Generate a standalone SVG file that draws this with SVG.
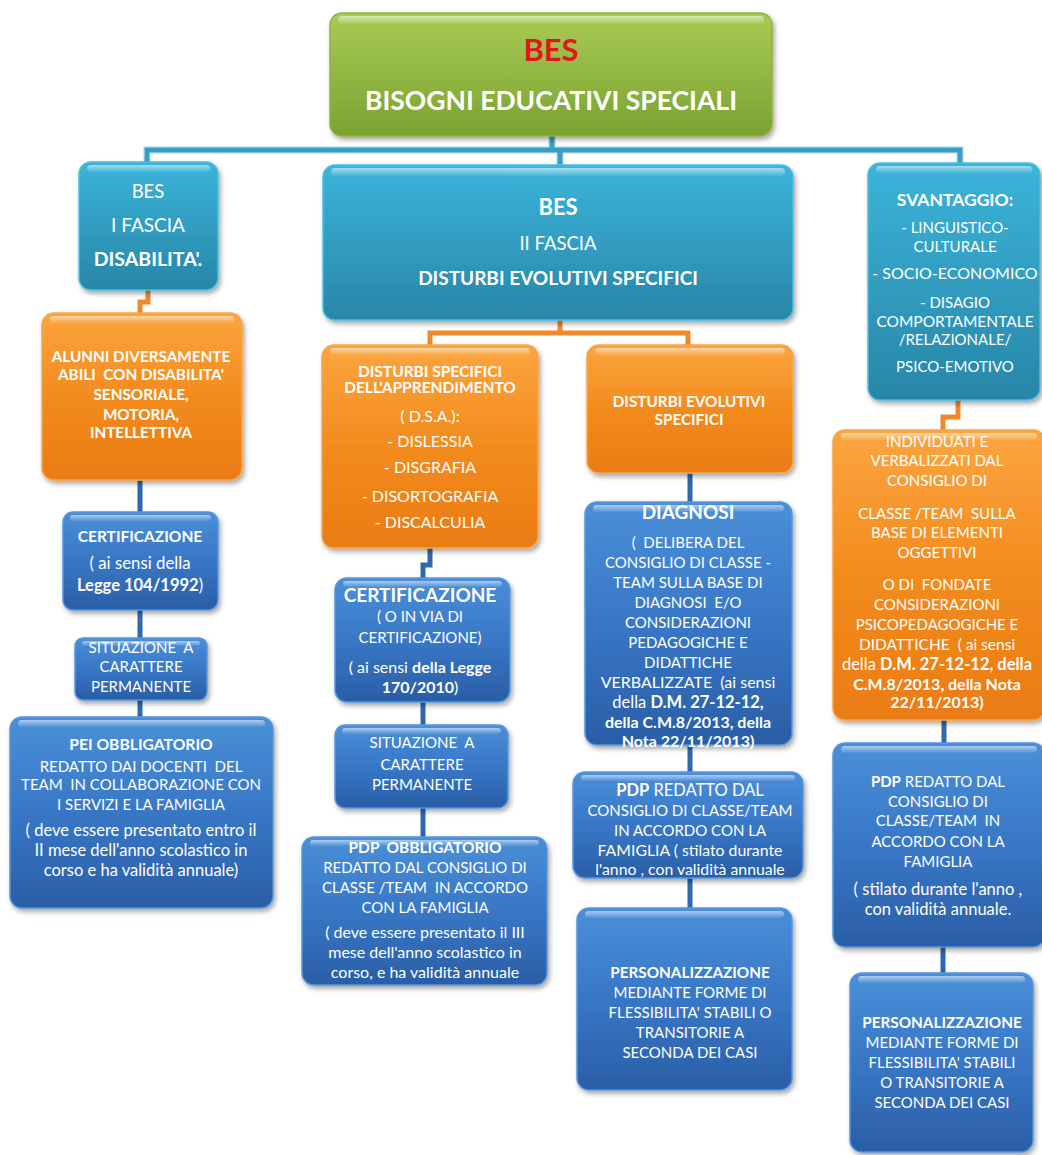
<svg xmlns="http://www.w3.org/2000/svg" width="1042" height="1155" viewBox="0 0 1042 1155">
<defs>
<linearGradient id="gG" x1="0" y1="0" x2="0" y2="1"><stop offset="0" stop-color="#a9cb55"/><stop offset="1" stop-color="#7aa232"/></linearGradient>
<linearGradient id="gC" x1="0" y1="0" x2="0" y2="1"><stop offset="0" stop-color="#3bb4da"/><stop offset="1" stop-color="#2886a8"/></linearGradient>
<linearGradient id="gO" x1="0" y1="0" x2="0" y2="1"><stop offset="0" stop-color="#fba53f"/><stop offset="0.5" stop-color="#f38b1e"/><stop offset="1" stop-color="#ea7c12"/></linearGradient>
<linearGradient id="gB" x1="0" y1="0" x2="0" y2="1"><stop offset="0" stop-color="#4a8fd8"/><stop offset="0.5" stop-color="#3877c6"/><stop offset="1" stop-color="#2a5ea6"/></linearGradient>
<linearGradient id="gH" x1="0" y1="0" x2="0" y2="1"><stop offset="0" stop-color="#fff" stop-opacity="0.55"/><stop offset="1" stop-color="#fff" stop-opacity="0.05"/></linearGradient>
<filter id="sh" x="-10%" y="-10%" width="130%" height="130%"><feDropShadow dx="2" dy="3" stdDeviation="2.5" flood-color="#000" flood-opacity="0.35"/></filter>
<style>
.bx{filter:url(#sh);stroke-width:1.5}
.g{fill:url(#gG);stroke:#8db43f}
.c{fill:url(#gC);stroke:#4bbde0}
.o{fill:url(#gO);stroke:#f8a548}
.u{fill:url(#gB);stroke:#5596dc}
.hl{fill:url(#gH)}
text{font-family:Lato,"Liberation Sans",sans-serif;fill:#fff;text-anchor:middle;font-size:15px}
.b{font-weight:bold}
.s{font-size:16.5px}
.m{font-size:16px}
.lc{fill:none;stroke-width:5;stroke-linejoin:miter}
.lt{stroke:#3a9dc3}
.lo{stroke:#f0892a}
.lb{stroke:#2f68ad}
.lw{fill:none;stroke:#cfe9f3;stroke-width:8}
</style>
</defs>

<g id="connectors">
<path class="lw" d="M552,136 V150 M147,163 V150 H960 V164 M560,150 V166"/>
<path class="lc lt" d="M552,136 V150 M147,163 V150 H960 V164 M560,150 V166"/>
<path class="lc lo" d="M148,290 V302 H140 V314"/>
<path class="lc lo" d="M560,320 V333 M430,346 V333 H688 V346"/>
<path class="lc lo" d="M958,400 V417 H943 V431"/>
<path class="lc lb" d="M140,480 V513 M140,610 V639 M140,700 V718"/>
<path class="lc lb" d="M430,548 V565 H423 V579 M423,702 V726 M423,808 V838"/>
<path class="lc lb" d="M690,473 V503 M690,745 V773 M690,878 V909"/>
<path class="lc lb" d="M944,720 V744 M943,947 V974"/>
</g>

<g id="root">
<rect class="bx g" x="330" y="13" width="442" height="123" rx="12"/>
<rect class="hl" x="338" y="16" width="426" height="8" rx="4"/>
<text x="551" y="61" class="b" style="fill:#e3161c;font-size:31px">BES</text>
<text x="551" y="110" class="b" style="font-size:26.5px">BISOGNI EDUCATIVI SPECIALI</text>
</g>

<g id="bes1">
<rect class="bx c" x="79" y="162" width="139" height="128" rx="12"/>
<rect class="hl" x="87" y="165" width="123" height="7" rx="3.5"/>
<text x="148" y="198" style="font-size:18.5px">BES</text>
<text x="148" y="232" style="font-size:19px">I FASCIA</text>
<text x="148" y="266" class="b" style="font-size:19.5px">DISABILITA'.</text>
</g>

<g id="bes2">
<rect class="bx c" x="323" y="165" width="470" height="155" rx="12"/>
<rect class="hl" x="331" y="168" width="454" height="8" rx="4"/>
<text x="558" y="215" class="b" style="font-size:22px">BES</text>
<text x="558" y="250" style="font-size:18.5px">II FASCIA</text>
<text x="558" y="285" class="b" style="font-size:19px">DISTURBI EVOLUTIVI SPECIFICI</text>
</g>

<g id="svantaggio">
<rect class="bx c" x="868" y="163" width="172" height="237" rx="12"/>
<rect class="hl" x="876" y="166" width="156" height="7" rx="3.5"/>
<text x="955" y="206" class="b" style="font-size:17.5px">SVANTAGGIO:</text>
<text x="955" y="233">- LINGUISTICO-</text>
<text x="955" y="252">CULTURALE</text>
<text x="955" y="279" style="font-size:16px">- SOCIO-ECONOMICO</text>
<text x="955" y="308">- DISAGIO</text>
<text x="955" y="327" style="font-size:15.5px">COMPORTAMENTALE</text>
<text x="955" y="345">/RELAZIONALE/</text>
<text x="955" y="372">PSICO-EMOTIVO</text>
</g>

<g id="alunni">
<rect class="bx o" x="42" y="313" width="200" height="167" rx="12"/>
<rect class="hl" x="50" y="316" width="184" height="7" rx="3.5"/>
<text x="141" y="362" class="b" style="font-size:15.3px">ALUNNI DIVERSAMENTE</text>
<text x="141" y="380" class="b" style="font-size:15.3px">ABILI&#160; CON DISABILITA'</text>
<text x="141" y="400" class="b" style="font-size:15.3px">SENSORIALE,</text>
<text x="141" y="420" class="b" style="font-size:15.3px">MOTORIA,</text>
<text x="141" y="438" class="b" style="font-size:15.3px">INTELLETTIVA</text>
</g>

<g id="dsa">
<rect class="bx o" x="322" y="345" width="216" height="203" rx="12"/>
<rect class="hl" x="330" y="348" width="200" height="7" rx="3.5"/>
<text x="430" y="377" class="b" style="font-size:15.5px">DISTURBI SPECIFICI</text>
<text x="430" y="393" class="b" style="font-size:15.5px">DELL'APPRENDIMENTO</text>
<text x="430" y="422" class="m">( D.S.A.):</text>
<text x="430" y="447" class="m">- DISLESSIA</text>
<text x="430" y="473" class="m">- DISGRAFIA</text>
<text x="430" y="502" class="m">- DISORTOGRAFIA</text>
<text x="430" y="528" class="m">- DISCALCULIA</text>
</g>

<g id="des">
<rect class="bx o" x="587" y="345" width="206" height="128" rx="12"/>
<rect class="hl" x="595" y="348" width="190" height="7" rx="3.5"/>
<text x="689" y="407" class="b" style="font-size:15.3px">DISTURBI EVOLUTIVI</text>
<text x="689" y="425" class="b" style="font-size:15.3px">SPECIFICI</text>
</g>

<g id="individuati">
<rect class="bx o" x="833" y="430" width="212" height="290" rx="12"/>
<rect class="hl" x="841" y="433" width="196" height="7" rx="3.5"/>
<text x="937" y="447">INDIVIDUATI E</text>
<text x="937" y="466">VERBALIZZATI DAL</text>
<text x="937" y="486">CONSIGLIO DI</text>
<text x="937" y="519">CLASSE /TEAM&#160; SULLA</text>
<text x="937" y="538">BASE DI ELEMENTI</text>
<text x="937" y="558">OGGETTIVI</text>
<text x="937" y="590">O DI&#160; FONDATE</text>
<text x="937" y="610">CONSIDERAZIONI</text>
<text x="937" y="630">PSICOPEDAGOGICHE E</text>
<text x="937" y="650" style="font-size:15.5px">DIDATTICHE&#160; ( ai sensi</text>
<text x="937" y="670" style="font-size:16.5px">della <tspan class="b">D.M. 27-12-12, della</tspan></text>
<text x="937" y="690" class="b m">C.M.8/2013, della Nota</text>
<text x="937" y="708" class="b m">22/11/2013)</text>
</g>

<g id="cert1">
<rect class="bx u" x="63" y="512" width="155" height="98" rx="10"/>
<rect class="hl" x="70" y="515" width="141" height="6" rx="3"/>
<text x="140" y="542" class="b" style="font-size:15.5px">CERTIFICAZIONE</text>
<text x="140" y="569" style="font-size:16.8px">( ai sensi della</text>
<text x="140" y="591" style="font-size:16.5px"><tspan class="b">Legge 104/1992</tspan>)</text>
</g>

<g id="sit1">
<rect class="bx u" x="75" y="638" width="132" height="62" rx="8"/>
<rect class="hl" x="82" y="641" width="118" height="5" rx="2.5"/>
<text x="141" y="653">SITUAZIONE&#160; A</text>
<text x="141" y="672">CARATTERE</text>
<text x="141" y="692">PERMANENTE</text>
</g>

<g id="pei">
<rect class="bx u" x="10" y="717" width="263" height="191" rx="12"/>
<rect class="hl" x="18" y="720" width="247" height="7" rx="3.5"/>
<text x="141" y="750" class="b" style="font-size:15.7px">PEI OBBLIGATORIO</text>
<text x="141" y="772">REDATTO DAI DOCENTI&#160; DEL</text>
<text x="141" y="790">TEAM&#160; IN COLLABORAZIONE CON</text>
<text x="141" y="810">I SERVIZI E LA FAMIGLIA</text>
<text x="141" y="836" class="s">( deve essere presentato entro il</text>
<text x="141" y="856" class="s">II mese dell'anno scolastico in</text>
<text x="141" y="876" class="s">corso e ha validità annuale)</text>
</g>

<g id="cert2">
<rect class="bx u" x="335" y="578" width="175" height="124" rx="12"/>
<rect class="hl" x="343" y="581" width="159" height="6" rx="3"/>
<text x="420" y="602" class="b" style="font-size:19px">CERTIFICAZIONE</text>
<text x="420" y="622">( O IN VIA DI</text>
<text x="420" y="643">CERTIFICAZIONE)</text>
<text x="420" y="673" class="m">( ai sensi <tspan class="b">della Legge</tspan></text>
<text x="420" y="693" class="m"><tspan class="b">170/2010</tspan>)</text>
</g>

<g id="sit2">
<rect class="bx u" x="335" y="725" width="173" height="83" rx="10"/>
<rect class="hl" x="342" y="728" width="159" height="6" rx="3"/>
<text x="422" y="748">SITUAZIONE&#160; A</text>
<text x="422" y="770">CARATTERE</text>
<text x="422" y="790">PERMANENTE</text>
</g>

<g id="pdp2">
<rect class="bx u" x="302" y="837" width="245" height="148" rx="12"/>
<rect class="hl" x="310" y="840" width="229" height="6" rx="3"/>
<text x="425" y="853" class="b" style="font-size:15.5px">PDP&#160; OBBLIGATORIO</text>
<text x="425" y="873">REDATTO DAL CONSIGLIO DI</text>
<text x="425" y="893">CLASSE /TEAM&#160; IN ACCORDO</text>
<text x="425" y="913">CON LA FAMIGLIA</text>
<text x="425" y="938" class="m">( deve essere presentato il III</text>
<text x="425" y="958" class="m">mese dell'anno scolastico in</text>
<text x="425" y="978" class="m">corso, e ha validità annuale</text>
</g>

<g id="diagnosi">
<rect class="bx u" x="585" y="502" width="207" height="243" rx="12"/>
<rect class="hl" x="593" y="505" width="191" height="7" rx="3.5"/>
<text x="688" y="519" class="b" style="font-size:19px">DIAGNOSI</text>
<text x="688" y="548">(&#160; DELIBERA DEL</text>
<text x="688" y="568">CONSIGLIO DI CLASSE -</text>
<text x="688" y="588">TEAM SULLA BASE DI</text>
<text x="688" y="608">DIAGNOSI&#160; E/O</text>
<text x="688" y="628">CONSIDERAZIONI</text>
<text x="688" y="648">PEDAGOGICHE E</text>
<text x="688" y="668">DIDATTICHE</text>
<text x="688" y="688" class="m">VERBALIZZATE&#160; (ai sensi</text>
<text x="688" y="708" class="s">della <tspan class="b">D.M. 27-12-12,</tspan></text>
<text x="688" y="728" class="b m">della C.M.8/2013, della</text>
<text x="688" y="747" class="b m">Nota 22/11/2013)</text>
</g>

<g id="pdp3">
<rect class="bx u" x="573" y="772" width="230" height="106" rx="12"/>
<rect class="hl" x="581" y="775" width="214" height="6" rx="3"/>
<text x="690" y="796" style="font-size:16.5px"><tspan class="b">PDP</tspan> REDATTO DAL</text>
<text x="690" y="816">CONSIGLIO DI CLASSE/TEAM</text>
<text x="690" y="836">IN ACCORDO CON LA</text>
<text x="690" y="856" style="font-size:15.8px">FAMIGLIA ( stilato durante</text>
<text x="690" y="875" style="font-size:15.8px">l'anno , con validità annuale</text>
</g>

<g id="pers3">
<rect class="bx u" x="577" y="908" width="215" height="182" rx="12"/>
<rect class="hl" x="585" y="911" width="199" height="7" rx="3.5"/>
<text x="690" y="978" class="b" style="font-size:15.3px">PERSONALIZZAZIONE</text>
<text x="690" y="998">MEDIANTE FORME DI</text>
<text x="690" y="1018">FLESSIBILITA' STABILI O</text>
<text x="690" y="1038">TRANSITORIE A</text>
<text x="690" y="1058">SECONDA DEI CASI</text>
</g>

<g id="pdp4">
<rect class="bx u" x="833" y="743" width="212" height="204" rx="12"/>
<rect class="hl" x="841" y="746" width="196" height="7" rx="3.5"/>
<text x="938" y="787"><tspan class="b">PDP</tspan> REDATTO DAL</text>
<text x="938" y="807">CONSIGLIO DI</text>
<text x="938" y="826">CLASSE/TEAM&#160; IN</text>
<text x="938" y="847">ACCORDO CON LA</text>
<text x="938" y="867">FAMIGLIA</text>
<text x="938" y="895" class="s">( stilato durante l'anno ,</text>
<text x="938" y="915" class="s">con validità annuale.</text>
</g>

<g id="pers4">
<rect class="bx u" x="850" y="973" width="183" height="179" rx="12"/>
<rect class="hl" x="858" y="976" width="167" height="7" rx="3.5"/>
<text x="942" y="1028" class="b" style="font-size:15.3px">PERSONALIZZAZIONE</text>
<text x="942" y="1048">MEDIANTE FORME DI</text>
<text x="942" y="1068">FLESSIBILITA' STABILI</text>
<text x="942" y="1088">O TRANSITORIE A</text>
<text x="942" y="1108">SECONDA DEI CASI</text>
</g>
</svg>
